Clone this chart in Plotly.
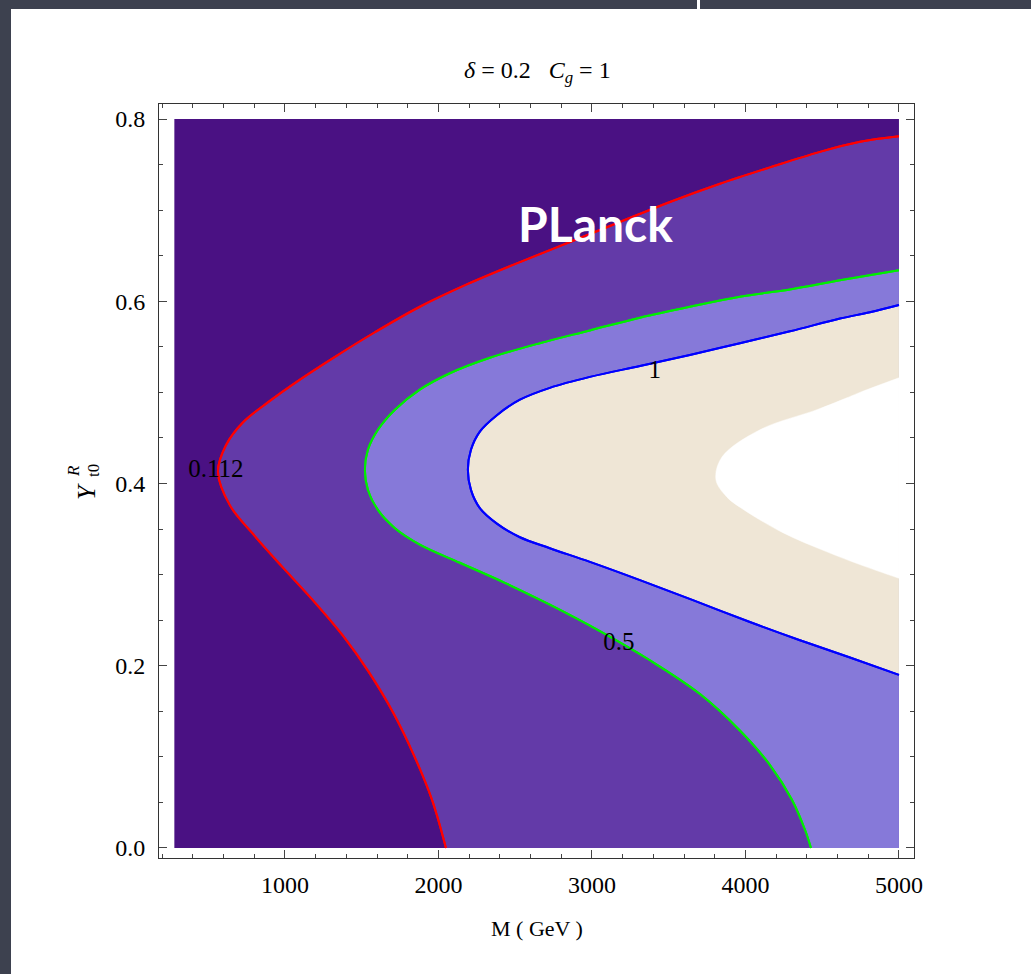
import plotly.graph_objects as go

# ---- data ----
M_MIN, M_MAX = 280, 5000
Y_MIN, Y_MAX = 0.0, 0.8

# contour 0.112 (red)
red_M = [2049, 1958, 1840, 1704, 1547, 1378, 1182, 980, 785, 642, 564,
         616, 726, 889, 1098, 1326, 1586, 1879, 2192, 2531, 2857, 3182, 3508, 3834,
         4160, 4485, 4746, 5000]
red_Y = [0.0, 0.053, 0.102, 0.149, 0.193, 0.233, 0.272, 0.309, 0.346, 0.376, 0.413,
         0.442, 0.467, 0.489, 0.514, 0.539, 0.566, 0.594, 0.619, 0.643, 0.665, 0.687, 0.709, 0.729,
         0.747, 0.764, 0.775, 0.781]

# contour 0.5 (green)
green_M = [4427, 4388, 4303, 4160, 3964, 3704, 3378, 3052, 2726, 2433, 2140, 1879, 1717, 1606, 1541, 1521,
           1541, 1606, 1717, 1879, 2075, 2336, 2661, 2987, 3313, 3638, 3964, 4290, 4616, 5000]
green_Y = [0.0, 0.020, 0.053, 0.091, 0.129, 0.169, 0.206, 0.238, 0.267, 0.291, 0.313, 0.333, 0.351, 0.371, 0.393, 0.415,
           0.437, 0.459, 0.481, 0.503, 0.521, 0.538, 0.554, 0.568, 0.582, 0.594, 0.605, 0.613, 0.623, 0.634]

# contour 1 (blue)
blue_M = [5000, 4681, 4355, 4029, 3658, 3313, 2987, 2726, 2531, 2381, 2270, 2212, 2192,
          2212, 2270, 2381, 2531, 2726, 2987, 3313, 3638, 3964, 4290, 4616, 4811, 5000]
blue_Y = [0.190, 0.209, 0.228, 0.248, 0.272, 0.294, 0.314, 0.329, 0.341, 0.356, 0.373, 0.393, 0.415,
          0.437, 0.457, 0.475, 0.492, 0.505, 0.517, 0.529, 0.541, 0.554, 0.567, 0.581, 0.588, 0.596]

# inner boundary (white)
white_M = [5000, 4746, 4531, 4244, 3964, 3880, 3808, 3847, 4095, 4466, 4661, 4746, 5000]
white_Y = [0.296, 0.311, 0.325, 0.346, 0.374, 0.385, 0.404, 0.429, 0.459, 0.481, 0.494, 0.500, 0.516]

# contour labels
label_text = ["0.112", "0.5", "1"]
label_M = [550, 3176, 3410]
label_Y = [0.414, 0.224, 0.523]

x_ticks = [1000, 2000, 3000, 4000, 5000]
y_ticks = [0.0, 0.2, 0.4, 0.6, 0.8]

# ---- style ----
C_DARK = "#4a1183"
C_MID = "#633aa8"
C_LIGHT = "#8679d9"
C_BEIGE = "#efe6d6"
SERIF = "Liberation Serif"

fig = go.Figure()

# base region
fig.add_trace(go.Scatter(x=[M_MIN, M_MAX, M_MAX, M_MIN], y=[Y_MIN, Y_MIN, Y_MAX, Y_MAX],
                         fill="toself", fillcolor=C_DARK, mode="lines", line=dict(width=0),
                         hoverinfo="skip", showlegend=False))

def contour_band(cx, cy, line_color, line_width, fill_color):
    # the contour curve (smooth)
    fig.add_trace(go.Scatter(x=cx, y=cy, mode="lines",
                             line=dict(color=line_color, width=line_width, shape="spline", smoothing=1.0),
                             hoverinfo="skip", showlegend=False))
    # right edge of the data domain, filled back to the curve
    edge_y = [cy[0] if cx[0] == M_MAX else Y_MIN, cy[-1]]
    fig.add_trace(go.Scatter(x=[M_MAX, M_MAX], y=edge_y, mode="lines", line=dict(width=0),
                             fill="tonextx", fillcolor=fill_color,
                             hoverinfo="skip", showlegend=False))

contour_band(red_M, red_Y, "#ff0000", 2.0, C_MID)
contour_band(green_M, green_Y, "#00ee00", 2.0, C_LIGHT)
contour_band(blue_M, blue_Y, "#0000ff", 2.0, C_BEIGE)
contour_band(white_M, white_Y, "#ffffff", 0.5, "#ffffff")

# redraw the coloured lines on top of all fills
for xs, ys, col in [(red_M, red_Y, "#ff0000"), (green_M, green_Y, "#00ee00"), (blue_M, blue_Y, "#0000ff")]:
    fig.add_trace(go.Scatter(x=xs, y=ys, mode="lines",
                             line=dict(color=col, width=2.0, shape="spline", smoothing=1.0),
                             hoverinfo="skip", showlegend=False))

fig.add_trace(go.Scatter(x=label_M, y=label_Y, mode="text", text=label_text,
                         textfont=dict(family=SERIF, size=25, color="black"),
                         hoverinfo="skip", showlegend=False))

fig.add_annotation(x=3026, y=0.685, xref="x", yref="y", text="<b>PLanck</b>", showarrow=False,
                   xanchor="center", yanchor="middle",
                   font=dict(family="Lato", size=48, color="white"))

# plot area pixels: left 159, right 914, top 104, bottom 858
L, R, T, B = 159, 914, 104, 858
W, H = 1031, 974
pw, ph = R - L, B - T

def px(x):
    return (x - L) / pw

def py(y):
    return (B - y) / ph

fig.add_shape(type="rect", xref="paper", yref="paper", x0=px(11), x1=px(1040), y0=py(990), y1=py(9),
              fillcolor="white", line=dict(width=0), layer="below")
fig.add_shape(type="rect", xref="paper", yref="paper", x0=px(697), x1=px(700), y0=py(17), y1=py(0),
              fillcolor="white", line=dict(width=0), layer="below")

def note(x, y, text, size, angle=0):
    fig.add_annotation(xref="paper", yref="paper", x=px(x), y=py(y), showarrow=False,
                       xanchor="center", yanchor="middle", textangle=angle, text=text,
                       font=dict(family=SERIF, size=size, color="black"))

note(537, 72, "<i>δ</i> = 0.2   <i>C</i><sub><i>g</i></sub> = 1", 24)
note(537, 928, "M ( GeV )", 22)
note(86, 492, "<i>Y</i>", 26, -90)
note(73, 471, "<i>R</i>", 17, -90)
note(93, 471, "t0", 17, -90)

axis_common = dict(showgrid=False, zeroline=False, showline=True, linecolor="#333333", linewidth=1,
                   mirror="allticks", ticks="inside", ticklen=8, tickcolor="#444444", tickwidth=1,
                   tickfont=dict(family=SERIF, size=24, color="black"))

fig.update_xaxes(range=[180, 5098], tickvals=x_ticks, ticktext=[str(v) for v in x_ticks],
                 minor=dict(dtick=200, ticks="inside", ticklen=4, tickcolor="#444444", showgrid=False),
                 ticklabelstandoff=5, **axis_common)
fig.update_yaxes(range=[-0.011, 0.8165], tickvals=y_ticks, ticktext=[f"{v:.1f}" for v in y_ticks],
                 minor=dict(dtick=0.05, ticks="inside", ticklen=4, tickcolor="#444444", showgrid=False),
                 ticklabelstandoff=8, **axis_common)

fig.update_layout(width=W, height=H, margin=dict(l=L, r=W - R, t=T, b=H - B),
                  paper_bgcolor="#3d414f", plot_bgcolor="white", showlegend=False)

fig.write_html("out.html")
